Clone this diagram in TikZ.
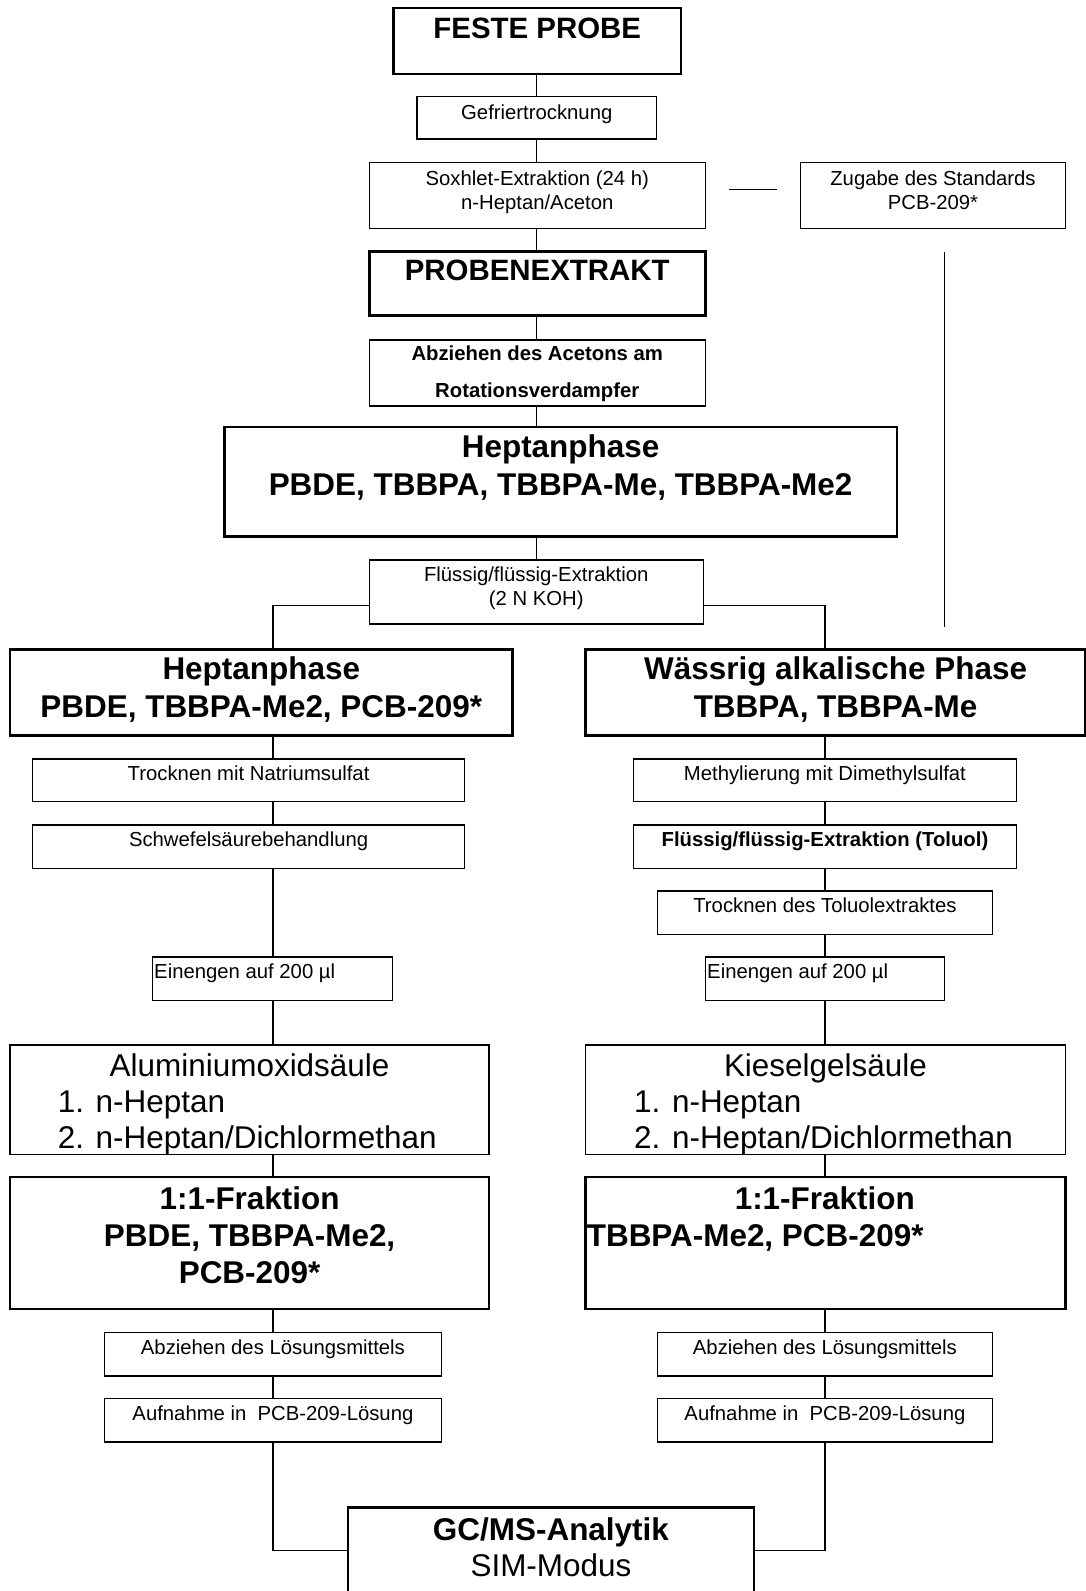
\documentclass[tikz,border=0pt]{standalone}
\usepackage{fontspec}
\setmainfont{Liberation Sans}

\tikzset{
  flowbox/.style={draw, line width=1.3pt, inner sep=0pt},
  heavybox/.style={draw, line width=2.6pt, inner sep=0pt},
  smalltext/.style={anchor=north, inner sep=0pt, align=center, yshift=-7pt, font=\fontsize{20}{23}\selectfont},
  bigtext/.style={anchor=north, inner sep=0pt, align=center, yshift=-8pt, font=\bfseries\fontsize{31}{37.5}\selectfont},
  coltext/.style={anchor=north west, inner sep=0pt, align=left, xshift=2pt, yshift=-8pt, font=\fontsize{31}{35.5}\selectfont},
}

\begin{document}
\begin{tikzpicture}[x=1pt,y=-1pt,line width=1.3pt]
  \useasboundingbox (0,0) rectangle (1070.3,1568);
  \coordinate (mx) at (529,0); \coordinate (lx) at (269,0); \coordinate (rx) at (813,0);

  % main line
  \node[heavybox, minimum width=283pt, minimum height=65pt,
        label={[bigtext, yshift=-2.5pt, font=\bfseries\fontsize{29}{35}\selectfont]north:FESTE PROBE}] (feste) at (529.5,40.5) {};
  \node[flowbox, minimum width=236pt, minimum height=42pt,
        label={[smalltext, yshift=-1.5pt]north:Gefriertrocknung}] (gefrier) at (529,116) {};
  \node[flowbox, minimum width=331pt, minimum height=65pt,
        label={[smalltext, yshift=-1.5pt]north:Soxhlet-Extraktion (24 h)\\n-Heptan/Aceton}] (soxhlet) at (529.5,192.5) {};
  \node[flowbox, minimum width=261pt, minimum height=65pt,
        label={[smalltext, yshift=-1.5pt]north:Zugabe des Standards\\PCB-209*}] (zugabe) at (919.5,192.5) {};
  \node[heavybox, minimum width=331pt, minimum height=63pt,
        label={[bigtext, yshift=-1pt, font=\bfseries\fontsize{29}{35}\selectfont]north:PROBENEXTRAKT}] (proben) at (529.5,279.5) {};
  \node[flowbox, minimum width=331pt, minimum height=65pt,
        label={[smalltext, yshift=1pt, font=\bfseries\fontsize{20}{36}\selectfont]north:Abziehen des Acetons am\\Rotationsverdampfer}] (aceton) at (529.5,367.5) {};
  \node[heavybox, minimum width=663pt, minimum height=108pt,
        label={[bigtext]north:Heptanphase\\PBDE, TBBPA, TBBPA-Me, TBBPA-Me2}] (heptan) at (552.5,475) {};
  \node[flowbox, minimum width=329pt, minimum height=63pt,
        label={[smalltext]north:Flüssig/flüssig-Extraktion\\(2 N KOH)}] (fluessig) at (528.5,583.5) {};

  % left column
  \node[heavybox, minimum width=495pt, minimum height=85pt,
        label={[bigtext]north:Heptanphase\\PBDE, TBBPA-Me2, PCB-209*}] (lheptan) at (257.5,682.5) {};
  \node[flowbox, minimum width=426pt, minimum height=42pt,
        label={[smalltext]north:Trocknen mit Natriumsulfat}] (ltrocken) at (245,769) {};
  \node[flowbox, minimum width=426pt, minimum height=43pt,
        label={[smalltext]north:Schwefelsäurebehandlung}] (lschwefel) at (245,834.5) {};
  \node[flowbox, minimum width=237pt, minimum height=43pt,
        label={[smalltext, anchor=north west, xshift=2pt]north west:Einengen auf 200 µl}] (leinengen) at (268.5,964.5) {};
  \node[flowbox, minimum width=472pt, minimum height=108pt,
        label={[coltext]north west:\makebox[468pt]{Aluminiumoxidsäule}\\\hspace*{45pt}1. n-Heptan\\\hspace*{45pt}2. n-Heptan/Dichlormethan}] (alu) at (246,1084) {};
  \node[heavybox, minimum width=472pt, minimum height=130pt,
        label={[bigtext, yshift=-2pt, font=\bfseries\fontsize{31}{36.5}\selectfont]north:{1:1-Fraktion\\PBDE, TBBPA-Me2,\\PCB-209*}}] (lfraktion) at (246,1225) {};
  \node[flowbox, minimum width=332pt, minimum height=43pt,
        label={[smalltext]north:Abziehen des Lösungsmittels}] (labziehen) at (269,1334.5) {};
  \node[flowbox, minimum width=332pt, minimum height=43pt,
        label={[smalltext]north:Aufnahme in\ \ PCB-209-Lösung}] (laufnahme) at (269,1399.5) {};

  % right column
  \node[heavybox, minimum width=493pt, minimum height=85pt,
        label={[bigtext]north:Wässrig alkalische Phase\\TBBPA, TBBPA-Me}] (wass) at (823.5,682.5) {};
  \node[flowbox, minimum width=378pt, minimum height=42pt,
        label={[smalltext]north:Methylierung mit Dimethylsulfat}] (methyl) at (813,769) {};
  \node[flowbox, minimum width=378pt, minimum height=43pt,
        label={[smalltext, font=\bfseries\fontsize{20}{23}\selectfont]north:Flüssig/flüssig-Extraktion (Toluol)}] (toluol) at (813,834.5) {};
  \node[flowbox, minimum width=330pt, minimum height=43pt,
        label={[smalltext]north:Trocknen des Toluolextraktes}] (rtrocken) at (813,899.5) {};
  \node[flowbox, minimum width=236pt, minimum height=43pt,
        label={[smalltext, anchor=north west, xshift=2pt]north west:Einengen auf 200 µl}] (reinengen) at (813,964.5) {};
  \node[flowbox, minimum width=473pt, minimum height=108pt,
        label={[coltext]north west:\makebox[469pt]{Kieselgelsäule}\\\hspace*{46pt}1. n-Heptan\\\hspace*{46pt}2. n-Heptan/Dichlormethan}] (kiesel) at (813.5,1084) {};
  \node[heavybox, minimum width=473pt, minimum height=130pt,
        label={[bigtext, anchor=north west, xshift=2pt, yshift=-2pt, align=left, font=\bfseries\fontsize{31}{36.5}\selectfont]north west:{\makebox[469pt]{1:1-Fraktion}\\TBBPA-Me2, PCB-209*}}] (rfraktion) at (813.5,1225) {};
  \node[flowbox, minimum width=330pt, minimum height=43pt,
        label={[smalltext]north:Abziehen des Lösungsmittels}] (rabziehen) at (813,1334.5) {};
  \node[flowbox, minimum width=330pt, minimum height=43pt,
        label={[smalltext]north:Aufnahme in\ \ PCB-209-Lösung}] (raufnahme) at (813,1399.5) {};

  \node[heavybox, minimum width=400pt, minimum height=130pt,
        label={[bigtext, yshift=-2pt, font=\fontsize{31}{36}\selectfont]north:\textbf{GC/MS-Analytik}\\SIM-Modus}] (gcms) at (543,1551) {};

  % connectors
  \draw (feste.south -| mx) -- (gefrier.north -| mx);
  \draw (gefrier.south -| mx) -- (soxhlet.north -| mx);
  \draw (soxhlet.south -| mx) -- (proben.north -| mx);
  \draw (proben.south -| mx) -- (aceton.north -| mx);
  \draw (aceton.south -| mx) -- (heptan.north -| mx);
  \draw (heptan.south -| mx) -- (fluessig.north -| mx);
  \draw ([xshift=23pt,yshift=5.5pt]soxhlet.east) -- ([xshift=-23pt,yshift=5.5pt]zugabe.west);
  \draw ([xshift=11.5pt,yshift=-23pt]zugabe.south) -- ++(0,369);
  \draw ([yshift=-13.5pt]fluessig.west) -| (lheptan.north -| lx);
  \draw ([yshift=-13.5pt]fluessig.east) -| (wass.north -| rx);

  \draw (lheptan.south -| lx) -- (ltrocken.north -| lx);
  \draw (ltrocken.south -| lx) -- (lschwefel.north -| lx);
  \draw (lschwefel.south -| lx) -- (leinengen.north -| lx);
  \draw (leinengen.south -| lx) -- (alu.north -| lx);
  \draw (alu.south -| lx) -- (lfraktion.north -| lx);
  \draw (lfraktion.south -| lx) -- (labziehen.north -| lx);
  \draw (labziehen.south -| lx) -- (laufnahme.north -| lx);
  \draw (laufnahme.south -| lx) |- ([yshift=23pt]gcms.west);

  \draw (wass.south -| rx) -- (methyl.north -| rx);
  \draw (methyl.south -| rx) -- (toluol.north -| rx);
  \draw (toluol.south -| rx) -- (rtrocken.north -| rx);
  \draw (rtrocken.south -| rx) -- (reinengen.north -| rx);
  \draw (reinengen.south -| rx) -- (kiesel.north -| rx);
  \draw (kiesel.south -| rx) -- (rfraktion.north -| rx);
  \draw (rfraktion.south -| rx) -- (rabziehen.north -| rx);
  \draw (rabziehen.south -| rx) -- (raufnahme.north -| rx);
  \draw (raufnahme.south -| rx) |- ([yshift=23pt]gcms.east);
\end{tikzpicture}
\end{document}
